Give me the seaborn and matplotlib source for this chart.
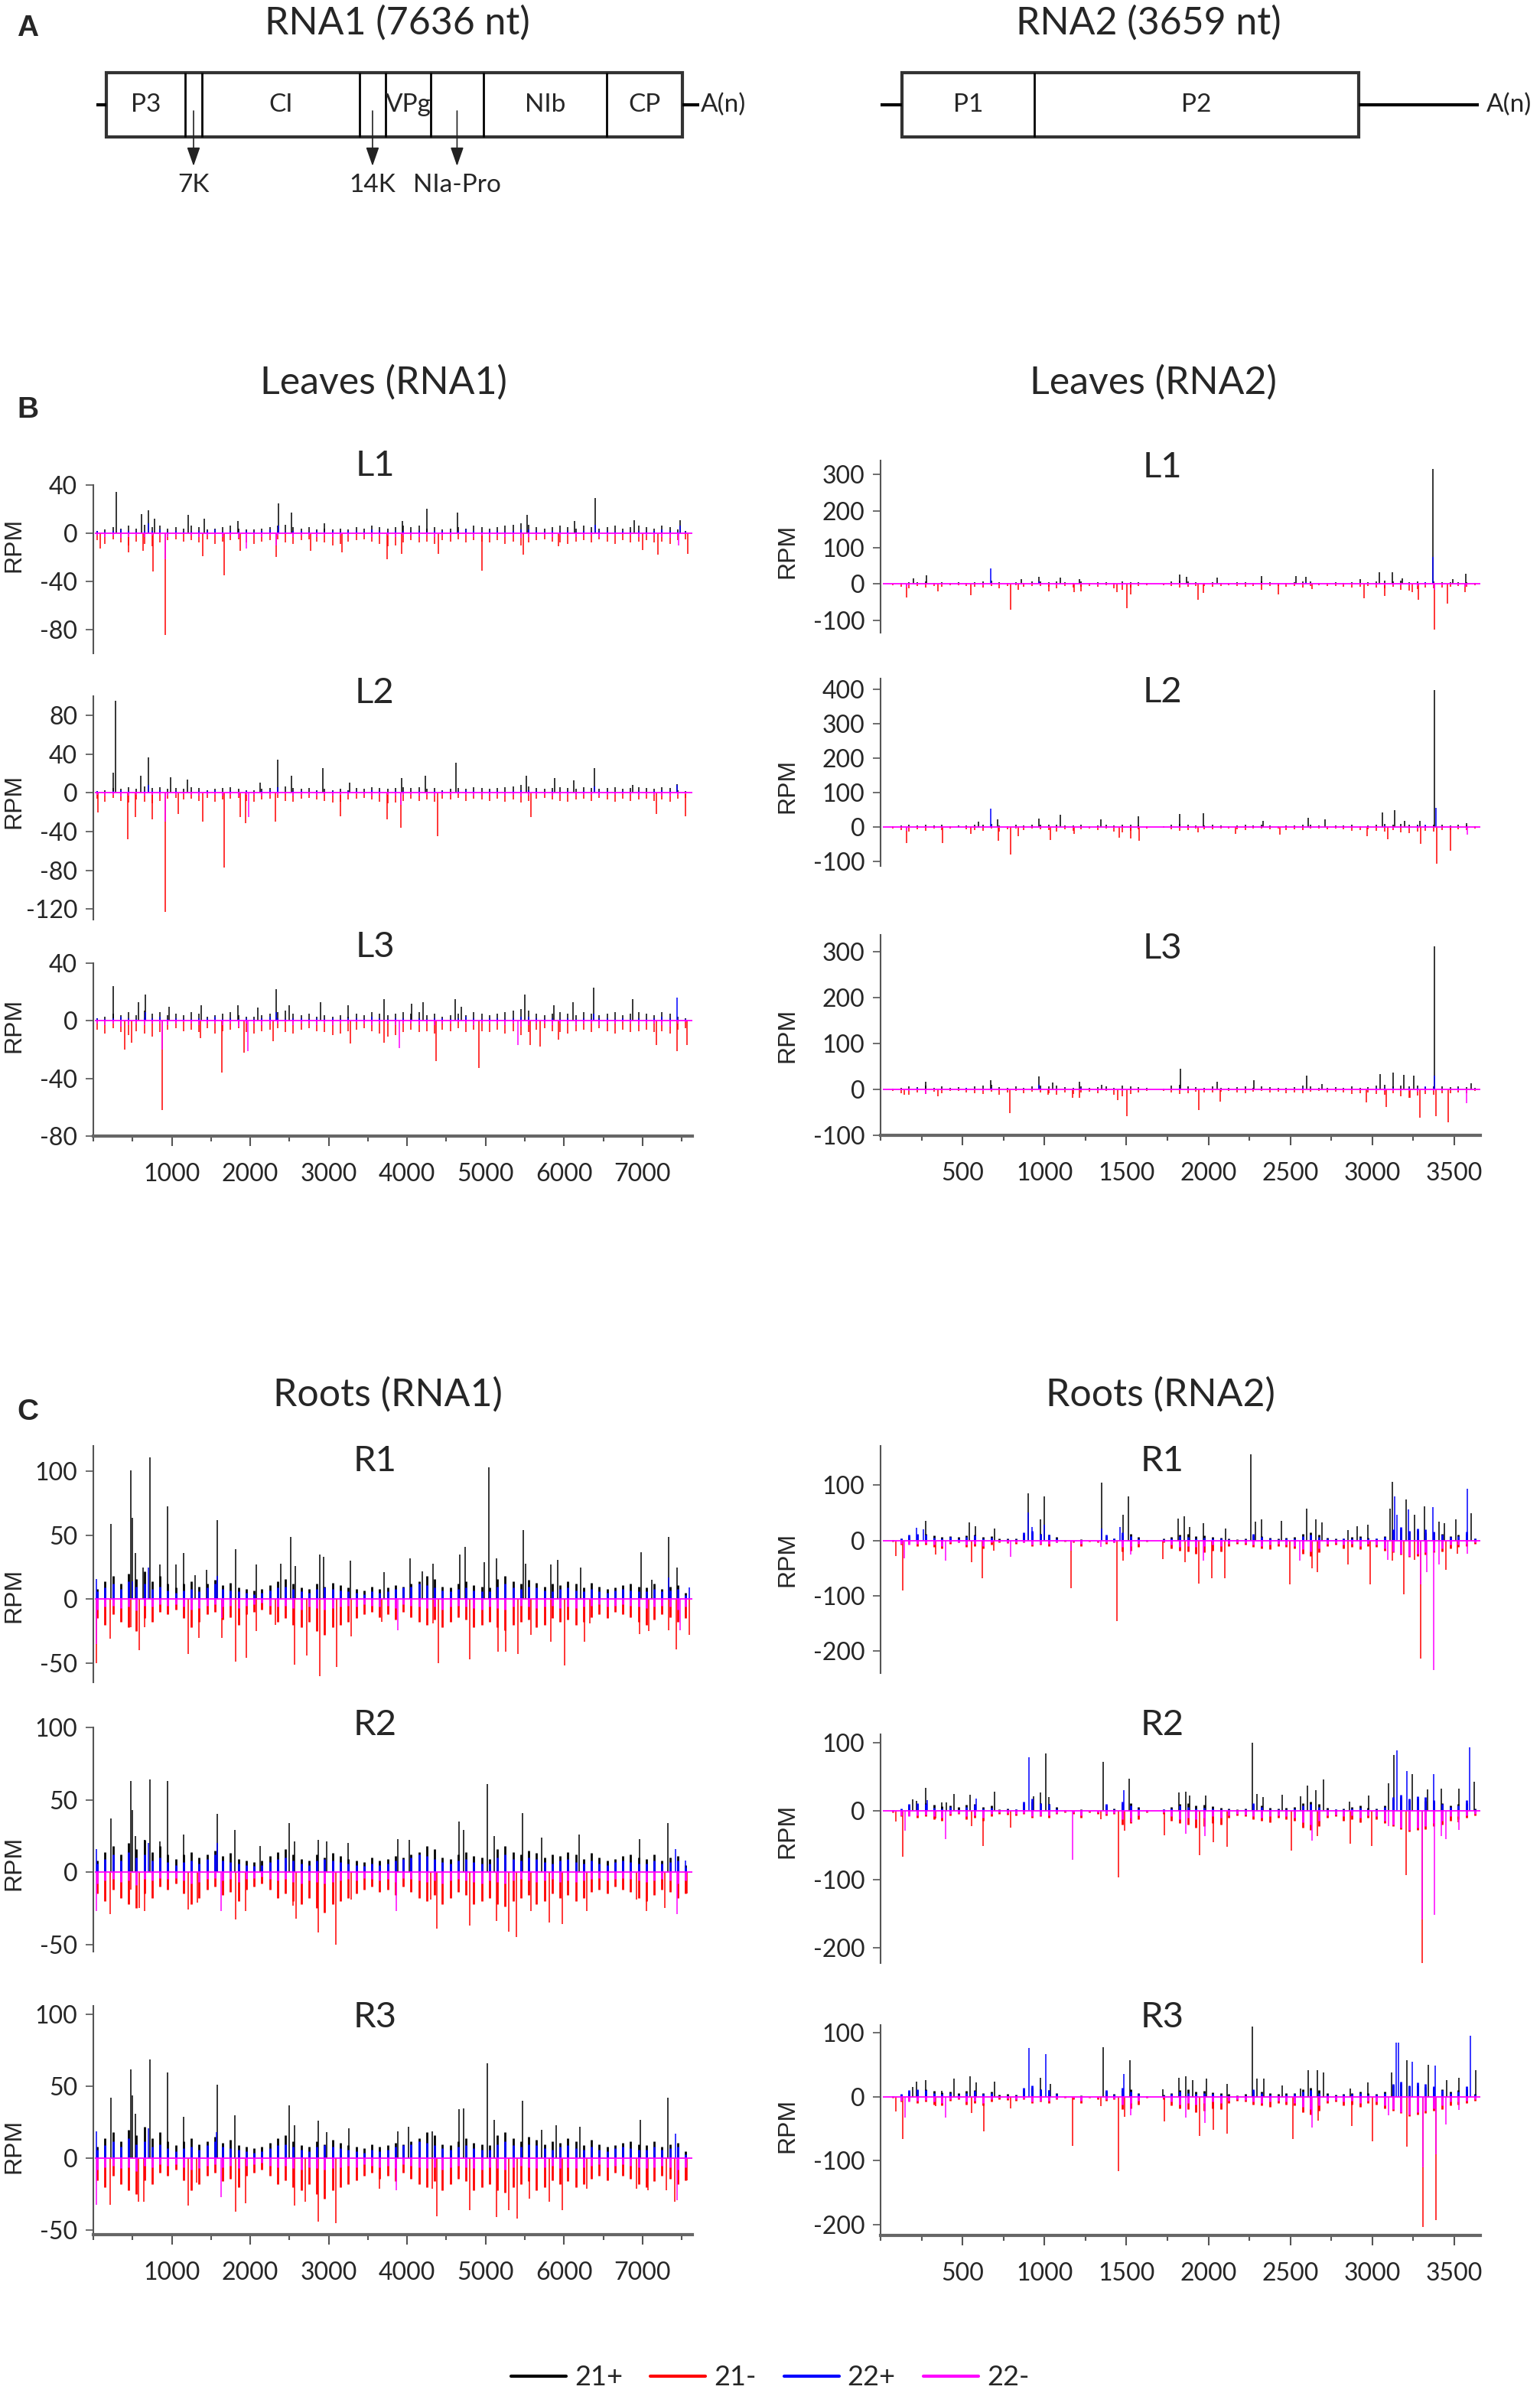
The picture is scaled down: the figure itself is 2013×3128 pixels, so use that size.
import numpy as np
import pandas as pd
import matplotlib
matplotlib.use("Agg")
import matplotlib.pyplot as plt
from matplotlib.lines import Line2D
from matplotlib.patches import Rectangle
from matplotlib.ticker import MultipleLocator
import seaborn as sns

# -------------------------------
# DATA
# -------------------------------
RNA1_LEN = 7636
RNA2_LEN = 3659

SERIES = ["21+", "21-", "22+", "22-"]
COLORS = {"21+": "#000000", "21-": "#FF0000", "22+": "#0000FF", "22-": "#FF00FF"}

# genome maps (nt)
RNA1_GENES = ["P3", "7K", "CI", "14K", "VPg", "NIa-Pro", "NIb", "CP"]
RNA1_BOUNDS = [166, 1170, 1385, 3393, 3725, 4300, 4973, 6543, 7514]
RNA1_ARROWED = ["7K", "14K", "NIa-Pro"]
RNA2_GENES = ["P1", "P2"]
RNA2_BOUNDS = [131, 937, 2915]

# background coverage, one value per bin (100 nt for RNA1, 50 nt for RNA2)
RNA1_BIN_POS = np.arange(50, RNA1_LEN, 100)
RNA2_BIN_POS = np.arange(25, RNA2_LEN, 50)

LEAF_RNA1_BG_21P = [2, 3, 5, 4, 6, 4, 7, 5, 6, 4, 5, 4, 6, 5, 3, 4, 5, 6, 4, 3,
                    3, 4, 5, 6, 7, 5, 4, 5, 3, 4, 3, 4, 3, 5, 4, 6, 5, 4, 5, 6,
                    5, 6, 4, 5, 3, 4, 5, 4, 6, 5, 4, 5, 6, 7, 8, 7, 5, 4, 5, 6,
                    5, 4, 6, 5, 4, 5, 6, 4, 5, 6, 5, 4, 6, 5, 3, 2]
LEAF_RNA1_BG_21M = [-6, -9, -5, -8, -10, -7, -9, -11, -8, -6, -5, -7, -6, -8, -5, -9, -7, -6, -5, -8,
                    -9, -7, -6, -5, -8, -9, -6, -5, -7, -8, -10, -9, -7, -6, -5, -7, -9, -11, -10, -8,
                    -6, -8, -7, -9, -6, -7, -5, -8, -6, -7, -8, -6, -9, -7, -10, -8, -6, -5, -7, -8,
                    -9, -7, -6, -8, -5, -7, -9, -6, -8, -7, -6, -8, -7, -9, -6, -5]
LEAF_RNA1_BG_22P = [2, 1, 2, 3, 2, 1, 2, 2, 3, 1, 2, 1, 1, 2, 2, 3, 1, 2, 1, 2,
                    1, 2, 3, 2, 1, 2, 2, 1, 2, 1, 2, 1, 2, 2, 1, 3, 2, 1, 2, 2,
                    1, 2, 1, 2, 2, 1, 2, 3, 2, 1, 2, 2, 1, 2, 3, 3, 2, 1, 2, 1,
                    2, 1, 2, 1, 2, 2, 1, 2, 1, 2, 1, 2, 3, 2, 1, 1]
LEAF_RNA1_BG_22M = [-2, -3, -2, -4, -3, -2, -3, -2, -2, -3, -2, -1, -2, -3, -2, -2, -3, -2, -4, -2,
                    -2, -3, -2, -2, -1, -3, -2, -2, -3, -2, -3, -2, -2, -1, -2, -3, -2, -2, -3, -2,
                    -2, -3, -2, -3, -2, -2, -1, -2, -3, -2, -2, -2, -3, -2, -4, -3, -2, -2, -3, -2,
                    -2, -3, -2, -2, -3, -2, -2, -1, -2, -3, -2, -2, -3, -4, -2, -1]

ROOT_RNA1_BG_21P = [8, 14, 18, 12, 20, 16, 22, 14, 18, 12, 9, 12, 14, 10, 12, 15, 11, 13, 9, 8,
                    7, 8, 11, 14, 16, 12, 9, 8, 12, 10, 13, 11, 9, 8, 7, 10, 8, 9, 11, 10,
                    12, 14, 18, 16, 10, 9, 12, 14, 11, 10, 9, 16, 18, 14, 12, 15, 13, 10, 12, 11,
                    14, 12, 9, 13, 10, 8, 9, 11, 12, 10, 9, 12, 8, 10, 11, 5]
ROOT_RNA1_BG_21M = [-15, -20, -12, -18, -22, -25, -15, -18, -10, -12, -8, -15, -22, -18, -12, -10, -16, -14, -20, -12,
                    -10, -8, -12, -18, -15, -20, -22, -18, -25, -28, -22, -20, -18, -15, -12, -10, -14, -12, -16, -10,
                    -14, -18, -20, -16, -22, -18, -14, -16, -22, -20, -18, -22, -24, -20, -18, -16, -22, -20, -15, -18,
                    -16, -20, -18, -14, -12, -15, -10, -12, -14, -18, -20, -16, -12, -14, -18, -15]
ROOT_RNA1_BG_22P = [6, 9, 12, 8, 14, 10, 12, 8, 10, 7, 5, 7, 8, 6, 9, 12, 8, 7, 6, 5,
                    4, 5, 7, 9, 10, 8, 6, 5, 8, 9, 8, 7, 6, 5, 4, 6, 5, 6, 8, 9,
                    10, 12, 11, 9, 7, 6, 8, 9, 7, 6, 6, 10, 12, 9, 8, 10, 9, 7, 6, 8,
                    9, 7, 6, 8, 6, 5, 7, 8, 7, 6, 6, 8, 6, 7, 8, 3]
ROOT_RNA1_BG_22M = [-8, -6, -5, -7, -6, -9, -5, -6, -4, -5, -4, -6, -8, -7, -5, -4, -6, -5, -7, -5,
                    -4, -3, -5, -6, -5, -7, -8, -6, -7, -8, -7, -6, -5, -6, -4, -5, -6, -5, -7, -4,
                    -5, -6, -7, -6, -8, -6, -5, -6, -7, -8, -6, -7, -8, -6, -5, -6, -7, -6, -5, -7,
                    -6, -7, -6, -5, -4, -6, -5, -4, -5, -6, -7, -6, -5, -6, -8, -6]

LEAF_RNA2_BG_21P = [0, 2, 4, 6, 5, 8, 4, 6, 3, 5, 4, 6, 8, 10, 5, 3, 6, 4, 7, 8,
                    6, 8, 5, 4, 7, 3, 5, 6, 4, 8, 6, 5, 3, 0, 2, 8, 10, 7, 5, 4,
                    6, 4, 3, 5, 6, 4, 7, 5, 3, 4, 5, 8, 7, 4, 3, 5, 4, 6, 3, 5,
                    8, 10, 7, 9, 6, 8, 5, 7, 6, 5, 6, 5, 3]
LEAF_RNA2_BG_21M = [0, -4, -8, -12, -6, -10, -5, -8, -4, -3, -6, -8, -10, -5, -12, -6, -4, -8, -5, -6,
                    -8, -12, -6, -10, -7, -5, -8, -4, -12, -15, -10, -6, -4, 0, -3, -6, -10, -8, -5, -6,
                    -7, -5, -4, -6, -8, -5, -4, -6, -5, -8, -6, -9, -5, -4, -6, -5, -7, -10, -8, -6,
                    -10, -12, -8, -15, -18, -14, -10, -12, -9, -8, -6, -8, -4]
LEAF_RNA2_BG_22P = [0, 1, 2, 2, 3, 1, 2, 2, 1, 2, 3, 1, 2, 4, 2, 1, 2, 1, 2, 3,
                    2, 2, 1, 2, 3, 1, 2, 2, 1, 2, 2, 1, 1, 0, 1, 2, 3, 2, 1, 2,
                    2, 1, 2, 1, 2, 2, 1, 2, 1, 2, 2, 3, 2, 1, 2, 1, 2, 2, 1, 2,
                    3, 4, 3, 2, 3, 4, 6, 3, 2, 2, 3, 2, 1]
LEAF_RNA2_BG_22M = [0, -1, -2, -3, -2, -2, -1, -2, -2, -1, -2, -2, -3, -2, -2, -1, -2, -2, -1, -2,
                    -2, -3, -2, -2, -1, -2, -3, -2, -2, -3, -2, -1, -1, 0, -1, -2, -2, -3, -2, -1,
                    -2, -2, -1, -2, -2, -1, -2, -1, -2, -2, -1, -2, -2, -1, -2, -2, -1, -2, -2, -1,
                    -3, -3, -4, -3, -4, -5, -4, -3, -3, -2, -3, -4, -2]

ROOT_RNA2_BG_21P = [0, 1, 3, 8, 10, 12, 9, 7, 8, 6, 9, 10, 6, 8, 3, 4, 3, 10, 14, 12,
                    10, 6, 1, 0, 2, 0, 0, 8, 4, 10, 12, 6, 1, 0, 3, 6, 10, 12, 8, 9,
                    7, 5, 4, 2, 4, 9, 8, 5, 4, 5, 6, 12, 14, 10, 5, 3, 4, 6, 8, 5,
                    4, 8, 18, 20, 16, 18, 15, 14, 12, 8, 10, 12, 4]
ROOT_RNA2_BG_21M = [0, -2, -8, -6, -10, -8, -12, -14, -6, -4, -12, -10, -14, -8, -4, -5, -6, -4, -10, -8,
                    -10, -4, -2, -4, -10, -2, -4, -6, -4, -20, -18, -12, -2, 0, -4, -14, -18, -20, -24, -22,
                    -18, -20, -10, -6, -8, -12, -14, -16, -10, -12, -14, -24, -28, -22, -10, -8, -14, -12, -16, -10,
                    -12, -18, -22, -26, -30, -28, -26, -22, -20, -14, -12, -10, -6]
ROOT_RNA2_BG_22P = [0, 1, 4, 10, 12, 10, 5, 4, 6, 3, 6, 9, 4, 5, 1, 2, 2, 14, 18, 12,
                    10, 4, 0, 0, 1, 0, 0, 10, 3, 14, 8, 4, 1, 0, 2, 4, 8, 6, 4, 5,
                    4, 3, 2, 1, 2, 12, 6, 3, 2, 3, 4, 8, 10, 6, 3, 2, 3, 4, 5, 3,
                    3, 6, 20, 24, 18, 22, 20, 16, 10, 6, 8, 16, 3]
ROOT_RNA2_BG_22M = [0, -1, -6, -8, -6, -5, -8, -10, -4, -3, -8, -6, -10, -4, -2, -3, -4, -3, -8, -6,
                    -6, -3, -1, -2, -6, -1, -2, -4, -3, -12, -10, -6, -1, 0, -2, -8, -12, -10, -12, -10,
                    -8, -10, -6, -4, -5, -8, -10, -8, -6, -8, -10, -16, -20, -14, -6, -5, -8, -6, -10, -6,
                    -8, -14, -20, -24, -28, -24, -22, -18, -14, -8, -8, -6, -4]

# prominent peaks (position nt, RPM)
L1_RNA1_21P = [(291, 34), (614, 16), (707, 19), (782, 12), (1205, 15), (1410, 12), (1840, 10), (2356, 25),
               (2530, 17), (2947, 8), (3942, 10), (4253, 20), (4639, 17), (5529, 15), (6138, 10), (6400, 29),
               (6897, 11), (7476, 11)]
L1_RNA1_21M = [(85, -13), (446, -16), (633, -15), (757, -32), (913, -85), (1398, -19), (1672, -35), (1871, -15),
               (2331, -20), (2773, -15), (3165, -16), (3743, -22), (3930, -17), (4396, -17), (4950, -31),
               (5479, -18), (5933, -11), (7003, -14), (7196, -18), (7582, -17)]
L1_RNA1_22P = [(707, 8), (2356, 6), (6400, 7), (7476, 6)]
L1_RNA1_22M = [(913, -22), (1951, -13), (2331, -10), (7457, -10)]

L2_RNA1_21P = [(253, 21), (284, 95), (602, 18), (701, 37), (987, 16), (1199, 14), (2126, 11), (2350, 34),
               (2530, 18), (2922, 26), (3270, 11), (3930, 15), (4228, 18), (4626, 31), (5516, 18), (5877, 15),
               (6120, 13), (6387, 26), (6879, 8), (7445, 9)]
L2_RNA1_21M = [(54, -20), (434, -48), (539, -25), (751, -27), (913, -123), (1080, -22), (1392, -30), (1672, -77),
               (1877, -25), (1945, -31), (2319, -30), (3146, -24), (3743, -27), (3917, -36), (4384, -45),
               (5579, -25), (7177, -22), (7550, -24)]
L2_RNA1_22P = [(701, 8), (2350, 6), (6387, 7), (7445, 8)]
L2_RNA1_22M = [(913, -30), (1983, -25), (3917, -12)]

L3_RNA1_21P = [(253, 24), (571, 13), (664, 18), (962, 10), (1379, 11), (1840, 11), (2095, 9), (2331, 22),
               (2499, 11), (2897, 13), (3246, 11), (3706, 15), (4054, 12), (4204, 13), (4614, 15), (4689, 10),
               (5498, 18), (5871, 11), (6113, 13), (6381, 23), (6873, 15)]
L3_RNA1_21M = [(396, -20), (490, -15), (875, -62), (1361, -12), (1641, -36), (1921, -22), (2294, -14),
               (3277, -16), (3706, -15), (4365, -28), (4913, -33), (5572, -17), (5697, -18), (5933, -13),
               (7177, -17), (7438, -21), (7563, -17)]
L3_RNA1_22P = [(664, 6), (2331, 6), (6381, 5), (7438, 16)]
L3_RNA1_22M = [(875, -20), (1970, -21), (3899, -19), (5417, -17)]

L1_RNA2_21P = [(200, 16), (281, 25), (857, 14), (968, 20), (1095, 17), (1215, 13), (1827, 26), (1866, 20),
               (2053, 17), (2324, 22), (2535, 22), (2595, 20), (2927, 14), (3044, 32), (3122, 33), (3183, 16),
               (3369, 316), (3490, 14), (3568, 28)]
L1_RNA2_21M = [(161, -36), (350, -20), (552, -30), (793, -71), (839, -15), (1026, -20), (1179, -23), (1224, -20),
               (1444, -23), (1504, -66), (1526, -28), (1938, -44), (1971, -24), (2324, -15), (2429, -28),
               (2634, -14), (2951, -38), (3077, -32), (3243, -23), (3279, -42), (3378, -124), (3460, -54),
               (3565, -22)]
L1_RNA2_22P = [(673, 42), (968, 8), (2595, 6), (3369, 74)]
L1_RNA2_22M = [(161, -10), (3378, -15), (3565, -8)]

L2_RNA2_21P = [(598, 15), (712, 22), (968, 24), (1098, 35), (1345, 22), (1571, 32), (1827, 39), (1968, 41),
               (2333, 18), (2610, 26), (2710, 22), (3062, 42), (3137, 50), (3198, 18), (3288, 17), (3377, 398),
               (3574, 11)]
L2_RNA2_21M = [(161, -47), (380, -47), (552, -19), (721, -39), (793, -79), (842, -26), (1035, -37), (1179, -19),
               (1456, -30), (1526, -33), (1577, -39), (1938, -15), (2164, -19), (2438, -22), (2966, -26),
               (3092, -35), (3297, -48), (3394, -107), (3475, -69)]
L2_RNA2_22P = [(671, 53), (3388, 55)]
L2_RNA2_22M = [(161, -10), (3580, -22)]

L3_RNA2_21P = [(275, 16), (670, 19), (965, 28), (1050, 15), (1215, 16), (1351, 10), (1830, 44), (2053, 16),
               (2279, 19), (2601, 29), (2695, 11), (3047, 33), (3129, 37), (3192, 31), (3252, 29), (3378, 311),
               (3605, 13)]
L3_RNA2_21M = [(146, -11), (350, -15), (787, -51), (1020, -12), (1173, -19), (1215, -18), (1447, -23),
               (1504, -59), (1941, -45), (2074, -26), (2963, -29), (3086, -38), (3228, -18), (3288, -62),
               (3388, -59), (3463, -71)]
L3_RNA2_22P = [(965, 10), (3378, 29)]
L3_RNA2_22M = [(275, -10), (3574, -30)]

R1_RNA1_21P = [(228, 59), (477, 101), (496, 64), (539, 36), (633, 25), (720, 111), (850, 27), (944, 73),
               (1050, 27), (1155, 36), (1298, 19), (1448, 23), (1578, 62), (1815, 39), (2076, 27), (2387, 28),
               (2512, 49), (2574, 26), (2885, 35), (2934, 33), (3277, 30), (3706, 21), (4036, 32), (4197, 22),
               (4334, 28), (4676, 35), (4739, 41), (4987, 29), (5043, 103), (5137, 32), (5485, 54), (5510, 28),
               (5827, 27), (5921, 31), (6213, 25), (6978, 37), (7121, 15), (7333, 49), (7438, 25)]
R1_RNA1_21M = [(36, -50), (210, -31), (477, -22), (583, -40), (657, -22), (1205, -43), (1342, -30), (1641, -30),
               (1815, -49), (1951, -46), (2076, -25), (2325, -20), (2561, -51), (2717, -44), (2885, -60),
               (3103, -53), (3289, -29), (3681, -18), (4328, -19), (4396, -50), (4801, -47), (5156, -41),
               (5261, -41), (5417, -43), (5579, -28), (5827, -33), (6008, -52), (6263, -33), (6325, -19),
               (6960, -27), (7084, -25), (7333, -24), (7432, -39), (7594, -28)]
R1_RNA1_22P = [(42, 16), (496, 14), (707, 25), (1578, 18), (7333, 17), (7594, 9)]
R1_RNA1_22M = [(42, -35), (1641, -15), (3880, -24), (7476, -24)]

R2_RNA1_21P = [(228, 37), (477, 63), (496, 43), (533, 25), (657, 22), (720, 64), (850, 21), (944, 63),
               (1149, 26), (1578, 40), (1808, 29), (2126, 18), (2499, 34), (2567, 21), (2872, 22), (2978, 21),
               (3252, 20), (3886, 23), (4023, 22), (4658, 35), (4720, 29), (5018, 61), (5106, 25), (5467, 41),
               (5715, 24), (6194, 26), (6960, 23), (7320, 34)]
R2_RNA1_21M = [(210, -29), (477, -12), (583, -25), (657, -27), (1205, -26), (1329, -21), (1815, -33),
               (1939, -27), (2543, -23), (2580, -32), (2872, -42), (3090, -50), (3289, -19), (4303, -19),
               (4378, -39), (4795, -37), (5143, -34), (5299, -41), (5392, -45), (5579, -27), (5809, -35),
               (5976, -36), (6294, -27), (6928, -19), (7053, -27), (7289, -25), (7569, -15)]
R2_RNA1_22P = [(42, 16), (707, 20), (1578, 20), (7420, 16), (7544, 8)]
R2_RNA1_22M = [(42, -27), (1628, -27), (3861, -27), (7438, -29)]

R3_RNA1_21P = [(222, 42), (477, 62), (496, 44), (533, 31), (720, 69), (944, 60), (1149, 29), (1578, 51),
               (1808, 30), (2499, 37), (2567, 23), (2872, 26), (2978, 18), (3258, 21), (3880, 19), (4017, 22),
               (4322, 19), (4658, 34), (4720, 35), (5018, 66), (5112, 27), (5467, 40), (5715, 20), (5902, 23),
               (6200, 22), (6972, 27), (7320, 42)]
R3_RNA1_21M = [(210, -32), (571, -30), (645, -30), (1205, -33), (1317, -17), (1815, -37), (1939, -31),
               (2561, -33), (2704, -30), (2872, -44), (3090, -45), (3644, -21), (4316, -21), (4378, -40),
               (4795, -36), (5143, -41), (5299, -36), (5405, -42), (5560, -28), (5809, -30), (5982, -36),
               (6294, -21), (6928, -21), (7066, -22), (7301, -22), (7413, -30), (7569, -15)]
R3_RNA1_22P = [(42, 19), (707, 21), (1566, 18), (7420, 17)]
R3_RNA1_22M = [(42, -32), (1628, -27), (3861, -22), (7444, -29)]

R1_RNA2_21P = [(275, 35), (540, 32), (577, 26), (697, 22), (902, 85), (974, 38), (1001, 80), (1351, 105),
               (1480, 47), (1513, 79), (1815, 39), (1851, 44), (1887, 24), (1971, 31), (2104, 22), (2258, 156),
               (2288, 34), (2324, 38), (2445, 35), (2601, 58), (2655, 38), (2695, 33), (2852, 19), (2906, 26),
               (2972, 29), (3107, 58), (3122, 106), (3204, 74), (3258, 47), (3318, 62), (3409, 34), (3439, 31),
               (3508, 38), (3605, 49)]
R1_RNA2_21M = [(94, -28), (134, -90), (335, -26), (555, -39), (622, -69), (691, -19), (1164, -86), (1444, -146),
               (1480, -37), (1721, -34), (1857, -39), (1941, -78), (2023, -69), (2098, -69), (2499, -80),
               (2631, -51), (2664, -57), (2852, -44), (2987, -80), (3124, -37), (3192, -97), (3258, -35),
               (3297, -214), (3451, -53), (3520, -24)]
R1_RNA2_22P = [(221, 23), (260, 20), (902, 51), (925, 25), (1001, 28), (1351, 22), (1460, 24), (3137, 80),
               (3152, 47), (3222, 56), (3369, 60), (3581, 93)]
R1_RNA2_22M = [(146, -32), (396, -37), (793, -30), (1164, -19), (1345, -12), (1526, -26), (1971, -37),
               (2557, -37), (3092, -35), (3297, -80), (3333, -57), (3373, -234), (3409, -44), (3581, -24)]

R2_RNA2_21P = [(194, 17), (221, 15), (275, 34), (375, 13), (402, 13), (450, 25), (546, 24), (697, 28), (935, 22),
               (974, 27), (1007, 84), (1028, 20), (1357, 72), (1519, 47), (1821, 27), (1863, 28), (1887, 23),
               (1984, 23), (2267, 100), (2294, 25), (2333, 20), (2450, 24), (2564, 22), (2604, 37), (2655, 31),
               (2701, 46), (2862, 14), (2978, 23), (3098, 40), (3131, 82), (3243, 54), (3336, 32), (3419, 33),
               (3529, 33), (3620, 43)]
R2_RNA2_21M = [(94, -15), (134, -67), (335, -11), (555, -22), (625, -51), (793, -24), (1345, -12), (1450, -97),
               (1489, -29), (1731, -35), (1947, -65), (2029, -45), (2113, -52), (2508, -58), (2664, -37),
               (2866, -48), (2996, -51), (3204, -93), (3303, -224), (3525, -16)]
R2_RNA2_22P = [(285, 16), (582, 18), (905, 78), (1483, 31), (3152, 88), (3213, 58), (3373, 54), (3593, 93)]
R2_RNA2_22M = [(149, -29), (396, -41), (1170, -71), (1532, -16), (1863, -33), (1977, -37), (2634, -43),
               (3098, -22), (3274, -16), (3303, -158), (3379, -152), (3419, -37), (3448, -41), (3529, -28)]

R3_RNA2_21P = [(194, 15), (221, 24), (275, 26), (375, 9), (450, 28), (546, 32), (582, 22), (697, 24), (974, 30),
               (1035, 20), (1360, 77), (1523, 57), (1721, 12), (1821, 30), (1863, 32), (1902, 26), (1987, 28),
               (2113, 20), (2270, 110), (2297, 28), (2339, 28), (2450, 17), (2564, 13), (2610, 41), (2664, 42),
               (2701, 38), (2866, 13), (2972, 22), (3116, 38), (3213, 57), (3340, 50), (3455, 26), (3529, 30),
               (3629, 41)]
R3_RNA2_21M = [(94, -23), (134, -66), (335, -15), (555, -25), (628, -54), (793, -19), (1170, -77), (1345, -15),
               (1453, -117), (1489, -31), (1731, -39), (1947, -62), (2029, -52), (2113, -58), (2514, -66),
               (2670, -37), (2873, -46), (3002, -70), (3213, -78), (3274, -21), (3309, -204), (3388, -193)]
R3_RNA2_22P = [(905, 76), (1007, 66), (1486, 35), (3144, 85), (3159, 84), (3243, 54), (3384, 49), (3599, 95)]
R3_RNA2_22M = [(149, -33), (396, -33), (1526, -29), (1863, -33), (1977, -41), (2634, -48), (3098, -29),
               (3309, -110), (3388, -90), (3448, -43), (3529, -21)]

# -------------------------------
# STYLE / LAYOUT
# -------------------------------
sns.set_theme(style="ticks")
plt.rcParams["font.family"] = ["Lato", "DejaVu Sans"]
plt.rcParams["axes.unicode_minus"] = False

W, H = 2013, 3128
fig = plt.figure(figsize=(W / 100, H / 100), dpi=100)
fig.patch.set_facecolor("white")

COL_X = [(122, 905, RNA1_LEN), (1151, 1935, RNA2_LEN)]
TITLE_X = [490, 1519]
RPM_X = [18, 1029]


def add_px_axes(left, top, right, bottom):
    return fig.add_axes([left / W, 1 - bottom / H, (right - left) / W, (bottom - top) / H])


def fig_text(x, y, s, **kw):
    fig.text(x / W, 1 - y / H, s, ha="center", va="center", **kw)


def make_frame(peaks, bin_pos, background):
    rows = []
    for s in SERIES:
        rows += [(p, v, s, "peak") for p, v in peaks[s]]
        n = min(len(bin_pos), len(background[s]))
        rows += [(p, v, s, "bg") for p, v in zip(bin_pos[:n], background[s][:n])]
    return pd.DataFrame(rows, columns=["pos", "rpm", "series", "kind"])


LEAF_RNA1_BG = dict(zip(SERIES, [LEAF_RNA1_BG_21P, LEAF_RNA1_BG_21M, LEAF_RNA1_BG_22P, LEAF_RNA1_BG_22M]))
ROOT_RNA1_BG = dict(zip(SERIES, [ROOT_RNA1_BG_21P, ROOT_RNA1_BG_21M, ROOT_RNA1_BG_22P, ROOT_RNA1_BG_22M]))
LEAF_RNA2_BG = dict(zip(SERIES, [LEAF_RNA2_BG_21P, LEAF_RNA2_BG_21M, LEAF_RNA2_BG_22P, LEAF_RNA2_BG_22M]))
ROOT_RNA2_BG = dict(zip(SERIES, [ROOT_RNA2_BG_21P, ROOT_RNA2_BG_21M, ROOT_RNA2_BG_22P, ROOT_RNA2_BG_22M]))


def peaks(a, b, c, d):
    return dict(zip(SERIES, [a, b, c, d]))


# name, column, peaks, background, bg line width, top px, bottom px, ylim, yticks, title y, RPM y, x axis shown
PANELS = [
    ("L1", 0, peaks(L1_RNA1_21P, L1_RNA1_21M, L1_RNA1_22P, L1_RNA1_22M), LEAF_RNA1_BG, 1.1,
     634, 854, (-100, 40), [-80, -40, 0, 40], 609, 712, False),
    ("L2", 0, peaks(L2_RNA1_21P, L2_RNA1_21M, L2_RNA1_22P, L2_RNA1_22M), LEAF_RNA1_BG, 1.1,
     910, 1202, (-131, 100), [-120, -80, -40, 0, 40, 80], 906, 1047, False),
    ("L3", 0, peaks(L3_RNA1_21P, L3_RNA1_21M, L3_RNA1_22P, L3_RNA1_22M), LEAF_RNA1_BG, 1.1,
     1259, 1485, (-80, 40), [-80, -40, 0, 40], 1238, 1340, True),
    ("L1", 1, peaks(L1_RNA2_21P, L1_RNA2_21M, L1_RNA2_22P, L1_RNA2_22M), LEAF_RNA2_BG, 1.1,
     602, 827, (-133, 338), [-100, 0, 100, 200, 300], 611, 720, False),
    ("L2", 1, peaks(L2_RNA2_21P, L2_RNA2_21M, L2_RNA2_22P, L2_RNA2_22M), LEAF_RNA2_BG, 1.1,
     887, 1132, (-113, 431), [-100, 0, 100, 200, 300, 400], 905, 1027, False),
    ("L3", 1, peaks(L3_RNA2_21P, L3_RNA2_21M, L3_RNA2_22P, L3_RNA2_22M), LEAF_RNA2_BG, 1.1,
     1222, 1484, (-100, 336), [-100, 0, 100, 200, 300], 1240, 1353, True),
    ("R1", 0, peaks(R1_RNA1_21P, R1_RNA1_21M, R1_RNA1_22P, R1_RNA1_22M), ROOT_RNA1_BG, 2.0,
     1890, 2199, (-65, 120), [-50, 0, 50, 100], 1910, 2085, False),
    ("R2", 0, peaks(R2_RNA1_21P, R2_RNA1_21M, R2_RNA1_22P, R2_RNA1_22M), ROOT_RNA1_BG, 2.0,
     2258, 2551, (-55, 100), [-50, 0, 50, 100], 2255, 2435, False),
    ("R3", 0, peaks(R3_RNA1_21P, R3_RNA1_21M, R3_RNA1_22P, R3_RNA1_22M), ROOT_RNA1_BG, 2.0,
     2622, 2921, (-53, 106), [-50, 0, 50, 100], 2637, 2805, True),
    ("R1", 1, peaks(R1_RNA2_21P, R1_RNA2_21M, R1_RNA2_22P, R1_RNA2_22M), ROOT_RNA2_BG, 2.0,
     1890, 2187, (-240, 171), [-200, -100, 0, 100], 1910, 2038, False),
    ("R2", 1, peaks(R2_RNA2_21P, R2_RNA2_21M, R2_RNA2_22P, R2_RNA2_22M), ROOT_RNA2_BG, 2.0,
     2267, 2566, (-222, 112), [-200, -100, 0, 100], 2255, 2393, False),
    ("R3", 1, peaks(R3_RNA2_21P, R3_RNA2_21M, R3_RNA2_22P, R3_RNA2_22M), ROOT_RNA2_BG, 2.0,
     2647, 2922, (-217, 112), [-200, -100, 0, 100], 2637, 2778, True),
]

# -------------------------------
# COVERAGE PANELS
# -------------------------------
for name, col, pk, bg, bg_lw, top, bottom, ylim, yticks, title_y, rpm_y, show_x in PANELS:
    left, right, length = COL_X[col]
    bin_pos = RNA1_BIN_POS if col == 0 else RNA2_BIN_POS
    df = make_frame(pk, bin_pos, bg)

    ax = add_px_axes(left, top, right, bottom)
    ax.set_facecolor("none")
    for s in SERIES:
        sub = df[df["series"] == s]
        back = sub[sub["kind"] == "bg"]
        ax.vlines(back["pos"], 0, back["rpm"], color=COLORS[s], lw=bg_lw)
        pk_rows = sub[sub["kind"] == "peak"]
        ax.vlines(pk_rows["pos"], 0, pk_rows["rpm"], color=COLORS[s], lw=1.1)
    ax.hlines(0, 15, length, color=COLORS["22-"], lw=1.3)

    ax.set_xlim(0, length)
    ax.set_ylim(*ylim)
    ax.set_yticks(yticks)
    ax.tick_params(axis="y", length=7, width=1.2, color="#555", labelsize=23, pad=8)
    ax.spines["left"].set_color("#555")
    ax.spines["left"].set_linewidth(1.5)
    if show_x:
        sns.despine(ax=ax)
        ax.spines["bottom"].set_color("#666")
        ax.spines["bottom"].set_linewidth(3)
        step = 1000 if col == 0 else 500
        ax.xaxis.set_minor_locator(MultipleLocator(step / 2))
        ax.set_xticks(list(range(step, length, step)))
        ax.tick_params(axis="x", which="major", length=9, width=1.5, color="#555", labelsize=23, pad=16)
        ax.tick_params(axis="x", which="minor", length=5, width=1.5, color="#555")
    else:
        sns.despine(ax=ax, bottom=True)
        ax.set_xticks([])

    fig_text(TITLE_X[col], title_y, name, fontsize=34)
    fig_text(RPM_X[col], rpm_y, "RPM", fontsize=23, rotation=90,
             family=["Liberation Sans", "DejaVu Sans"])

# -------------------------------
# GENOME MAPS (panel A)
# -------------------------------
BOX_TOP, BOX_BOTTOM, BOX_MID = 95, 179, 137


def draw_map(col, genes, bounds, arrowed, lead_start, tail_end, an_x):
    left, right, length = COL_X[col]
    ax = add_px_axes(left, 0, right, 270)
    ax.set_xlim(0, length)
    ax.set_ylim(270, 0)
    ax.axis("off")
    start, end = bounds[0], bounds[-1]
    ax.add_patch(Rectangle((start, BOX_TOP), end - start, BOX_BOTTOM - BOX_TOP,
                           fill=False, ec="#333333", lw=3))
    ax.vlines(bounds[1:-1], BOX_TOP, BOX_BOTTOM, color="black", lw=2)
    ax.hlines(BOX_MID, lead_start, start, color="black", lw=3, clip_on=False)
    ax.hlines(BOX_MID, end, tail_end, color="black", lw=3, clip_on=False)
    ax.text(an_x, BOX_MID, "A(n)", ha="left", va="center", fontsize=24, clip_on=False)
    for g, a, b in zip(genes, bounds[:-1], bounds[1:]):
        mid = (a + b) / 2
        if g in arrowed:
            ax.annotate("", xy=(mid, 217), xytext=(mid, 145),
                        arrowprops=dict(arrowstyle="-|>,head_length=1.0,head_width=0.35",
                                        color="#222222", lw=1.2, shrinkA=0, shrinkB=0,
                                        mutation_scale=15))
            ax.text(mid, 242, g, ha="center", va="center", fontsize=24)
        else:
            ax.text(mid, BOX_MID, g, ha="center", va="center", fontsize=24)


draw_map(0, RNA1_GENES, RNA1_BOUNDS, RNA1_ARROWED, 40, 7720, 7745)
draw_map(1, RNA2_GENES, RNA2_BOUNDS, [], 0, 3650, 3695)

# -------------------------------
# HEADERS, PANEL LETTERS, LEGEND
# -------------------------------
fig_text(519, 30, f"RNA1 ({RNA1_LEN} nt)", fontsize=36)
fig_text(1501, 30, f"RNA2 ({RNA2_LEN} nt)", fontsize=36)
fig_text(501, 500, "Leaves (RNA1)", fontsize=36)
fig_text(1507, 500, "Leaves (RNA2)", fontsize=36)
fig_text(507, 1823, "Roots (RNA1)", fontsize=36)
fig_text(1517, 1823, "Roots (RNA2)", fontsize=36)

for letter, y in [("A", 37), ("B", 536), ("C", 1846)]:
    fig_text(36, y, letter, fontsize=28, fontweight="bold", family=["Liberation Sans", "DejaVu Sans"])

handles = [Line2D([0], [0], color=COLORS[s], lw=3) for s in SERIES]
fig.legend(handles, SERIES, loc="center", bbox_to_anchor=(0.5, 1 - 3108 / H), ncol=4,
           frameon=False, fontsize=26, handlelength=2.0, handletextpad=0.3, columnspacing=1.0)

fig.savefig("out.png", dpi=100, facecolor="white")
